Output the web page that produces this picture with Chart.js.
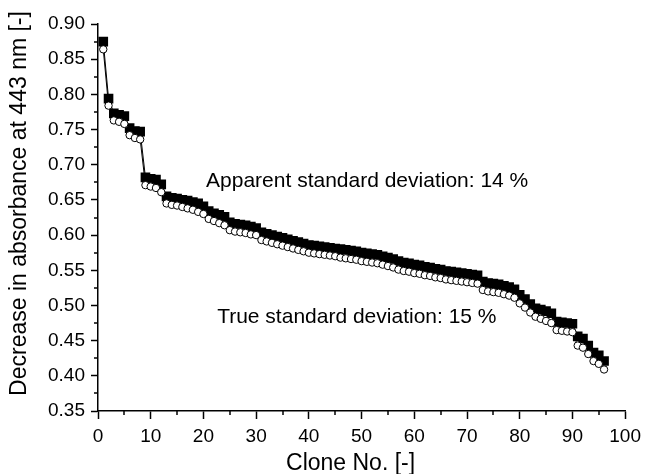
<!DOCTYPE html>
<html>
<head>
<meta charset="utf-8">
<title>Clone absorbance</title>
<script src="https://cdn.jsdelivr.net/npm/chart.js@4.4.1/dist/chart.umd.min.js"></script>
<style>
    html, body { margin: 0; padding: 0; background: #fff; }
    #wrap { width: 647px; height: 474px; }
</style>
</head>
<body>
<div id="wrap"><canvas id="chart"></canvas></div>
<script>
const FONT = '"Liberation Sans", Arial, Helvetica, sans-serif';

// Clone numbers (x axis)
const CLONES = [
    1, 2, 3, 4, 5, 6, 7, 8, 9, 10, 11, 12, 13, 14, 15, 16, 17, 18, 19, 20,
    21, 22, 23, 24, 25, 26, 27, 28, 29, 30, 31, 32, 33, 34, 35, 36, 37, 38, 39, 40,
    41, 42, 43, 44, 45, 46, 47, 48, 49, 50, 51, 52, 53, 54, 55, 56, 57, 58, 59, 60,
    61, 62, 63, 64, 65, 66, 67, 68, 69, 70, 71, 72, 73, 74, 75, 76, 77, 78, 79, 80,
    81, 82, 83, 84, 85, 86, 87, 88, 89, 90, 91, 92, 93, 94, 95, 96
];

// Filled squares
const FILLED_VALUES = [
    0.875, 0.794, 0.773, 0.771, 0.769, 0.752, 0.748, 0.747, 0.682, 0.680,
    0.679, 0.672, 0.655, 0.653, 0.652, 0.650, 0.649, 0.647, 0.645, 0.641,
    0.634, 0.631, 0.629, 0.626, 0.618, 0.616, 0.615, 0.614, 0.612, 0.610,
    0.604, 0.602, 0.600, 0.598, 0.596, 0.594, 0.592, 0.590, 0.588, 0.586,
    0.585, 0.584, 0.583, 0.582, 0.581, 0.580, 0.579, 0.578, 0.577, 0.575,
    0.574, 0.573, 0.572, 0.570, 0.568, 0.566, 0.563, 0.561, 0.560, 0.558,
    0.557, 0.555, 0.554, 0.552, 0.551, 0.549, 0.548, 0.547, 0.546, 0.545,
    0.544, 0.543, 0.534, 0.532, 0.531, 0.530, 0.528, 0.526, 0.523, 0.515,
    0.509, 0.502, 0.496, 0.494, 0.492, 0.489, 0.477, 0.476, 0.475, 0.474,
    0.456, 0.453, 0.443, 0.433, 0.429, 0.421
];

// Open circles
const OPEN_VALUES = [
    0.864, 0.784, 0.763, 0.761, 0.758, 0.742, 0.738, 0.736, 0.671, 0.669,
    0.667, 0.661, 0.645, 0.643, 0.642, 0.640, 0.638, 0.636, 0.633, 0.630,
    0.623, 0.620, 0.617, 0.614, 0.607, 0.605, 0.604, 0.603, 0.601, 0.600,
    0.593, 0.591, 0.589, 0.587, 0.585, 0.583, 0.581, 0.579, 0.577, 0.575,
    0.574, 0.573, 0.572, 0.571, 0.570, 0.568, 0.567, 0.566, 0.565, 0.563,
    0.562, 0.561, 0.560, 0.558, 0.556, 0.554, 0.551, 0.549, 0.548, 0.546,
    0.545, 0.543, 0.542, 0.540, 0.539, 0.537, 0.536, 0.535, 0.534, 0.533,
    0.532, 0.531, 0.522, 0.520, 0.519, 0.518, 0.516, 0.514, 0.511, 0.503,
    0.497, 0.490, 0.484, 0.481, 0.478, 0.475, 0.465, 0.464, 0.463, 0.462,
    0.443, 0.440, 0.431, 0.421, 0.417, 0.409
];

// Axis ranges / tick steps
const X_RANGE = [0, 100];
const X_STEP = 10;
const Y_RANGE = [0.35, 0.90];
const Y_STEP = 0.05;

// Text labels inside the plot (left edge / baseline, data coordinates)
const NOTE_TEXTS = ['Apparent standard deviation: 14 %', 'True standard deviation: 15 %'];
const NOTE_X = [20.5, 22.6];
const NOTE_Y = [0.669, 0.4745];

const X_TITLE = 'Clone No. [-]';
const Y_TITLE = 'Decrease in absorbance at 443 nm [-]';

function toPoints(values) {
    return CLONES.map((c, i) => ({ x: c, y: values[i] }));
}

// Minor ticks, in-plot notes and axis titles
const decorations = {
    id: 'decorations',
    afterDraw(chart) {
        const { ctx, chartArea, scales: { x, y } } = chart;
        ctx.save();
        ctx.strokeStyle = '#000';
        ctx.lineWidth = 1.5;

        const xt = x.ticks.map(t => t.value);
        for (let i = 0; i < xt.length - 1; i++) {
            const px = Math.round(x.getPixelForValue((xt[i] + xt[i + 1]) / 2));
            ctx.beginPath();
            ctx.moveTo(px, chartArea.bottom);
            ctx.lineTo(px, chartArea.bottom + 4);
            ctx.stroke();
        }
        const yt = y.ticks.map(t => t.value);
        for (let i = 0; i < yt.length - 1; i++) {
            const py = Math.round(y.getPixelForValue((yt[i] + yt[i + 1]) / 2));
            ctx.beginPath();
            ctx.moveTo(chartArea.left, py);
            ctx.lineTo(chartArea.left - 4, py);
            ctx.stroke();
        }

        ctx.fillStyle = '#000';
        ctx.font = `21px ${FONT}`;
        ctx.textAlign = 'left';
        ctx.textBaseline = 'alphabetic';
        NOTE_TEXTS.forEach((t, i) => {
            ctx.fillText(t, x.getPixelForValue(NOTE_X[i]), y.getPixelForValue(NOTE_Y[i]));
        });

        // axis titles
        ctx.font = `23px ${FONT}`;
        ctx.textAlign = 'center';
        ctx.fillText(X_TITLE, (chartArea.left + chartArea.right) / 2 - 11, chart.height - 4);

        ctx.save();
        ctx.translate(26, (chartArea.top + chartArea.bottom) / 2 - 14);
        ctx.rotate(-Math.PI / 2);
        ctx.fillText(Y_TITLE, 0, 0);
        ctx.restore();

        ctx.restore();
    }
};

function init() {
    const ctx = document.getElementById('chart').getContext('2d');

    new Chart(ctx, {
        type: 'line',
        data: {
            datasets: [
                {
                    label: 'Open',
                    data: toPoints(OPEN_VALUES),
                    borderColor: '#000',
                    borderWidth: 1,
                    tension: 0,
                    pointStyle: 'circle',
                    pointRadius: 3.7,
                    pointBackgroundColor: '#fff',
                    pointBorderColor: '#000',
                    pointBorderWidth: 1,
                },
                {
                    label: 'Filled',
                    data: toPoints(FILLED_VALUES),
                    borderColor: '#000',
                    borderWidth: 1,
                    tension: 0,
                    pointStyle: 'rect',
                    pointRadius: 6.8,
                    pointBackgroundColor: '#000',
                    pointBorderColor: '#000',
                    pointBorderWidth: 0,
                }
            ]
        },
        options: {
            responsive: true,
            maintainAspectRatio: false,
            animation: false,
            events: [],
            layout: {
                padding: { top: 24, right: 19, bottom: 0, left: 0 }
            },
            plugins: {
                legend: { display: false },
                tooltip: { enabled: false },
            },
            scales: {
                x: {
                    type: 'linear',
                    min: X_RANGE[0],
                    max: X_RANGE[1],
                    afterFit: (scale) => { scale.height = 63; },
                    ticks: {
                        stepSize: X_STEP,
                        color: '#000',
                        font: { family: FONT, size: 19 },
                        padding: 6,
                        maxRotation: 0,
                    },
                    grid: {
                        drawOnChartArea: false,
                        drawTicks: true,
                        tickLength: 8,
                        tickColor: '#000',
                        tickWidth: 1.5,
                    },
                    border: { display: true, color: '#000', width: 1.5 },
                },
                y: {
                    min: Y_RANGE[0],
                    max: Y_RANGE[1],
                    afterFit: (scale) => { scale.width = 98; },
                    ticks: {
                        stepSize: Y_STEP,
                        color: '#000',
                        font: { family: FONT, size: 19 },
                        padding: 6,
                        callback: (v) => Number(v).toFixed(2),
                    },
                    grid: {
                        drawOnChartArea: false,
                        drawTicks: true,
                        tickLength: 7,
                        tickColor: '#000',
                        tickWidth: 1.5,
                    },
                    border: { display: true, color: '#000', width: 1.5 },
                }
            }
        },
        plugins: [decorations]
    });
}

init();
</script>
</body>
</html>
